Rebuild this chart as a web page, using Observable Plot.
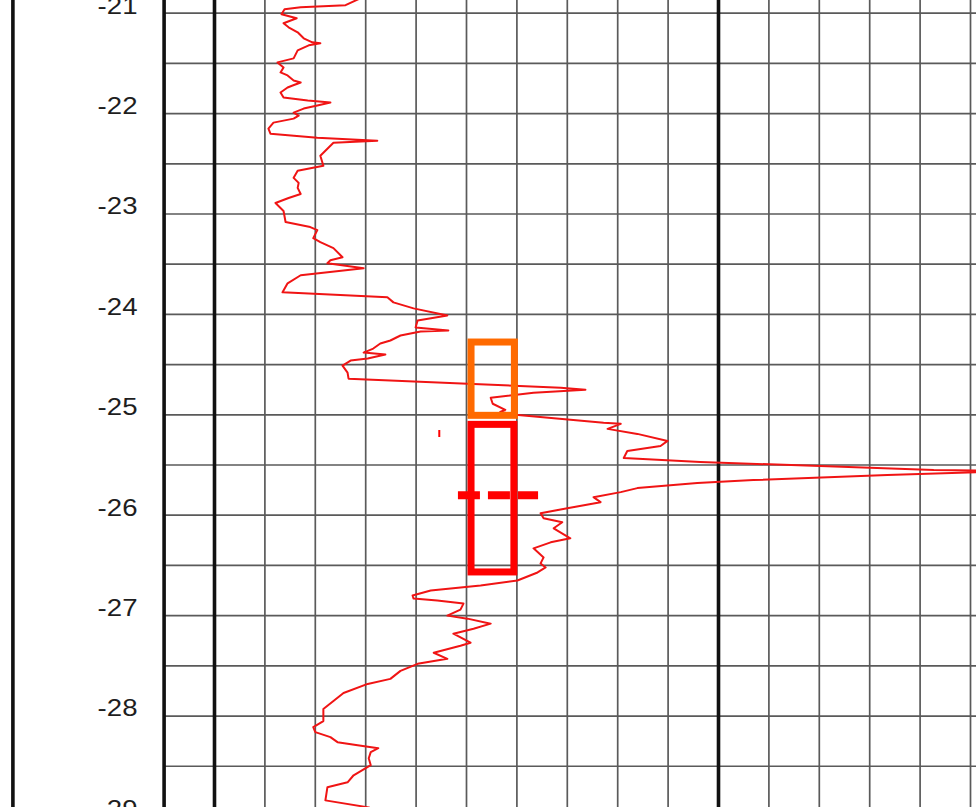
<!DOCTYPE html>
<html><head><meta charset="utf-8">
<script src="https://cdn.jsdelivr.net/npm/d3@7"></script>
<script src="https://cdn.jsdelivr.net/npm/@observablehq/plot@0.6"></script>
<style>html,body{margin:0;padding:0;background:#fff;overflow:hidden}</style>
</head><body><div id="chart"></div>
<script>
// Depth tick labels and grid
const depthLabels = [-21, -22, -23, -24, -25, -26, -27, -28, -29];
const gridDepths = [-21, -21.5, -22, -22.5, -23, -23.5, -24, -24.5, -25, -25.5, -26, -26.5, -27, -27.5, -28, -28.5, -29];
const thinColumns = [1, 2, 3, 4, 5, 6, 7, 8, 9, 11, 12, 13, 14, 15];
const thickColumns = [-4, -1, 0, 10];

// Log trace (value in grid units, depth)
const traceValue = [2.90,2.60,1.71,1.39,1.33,1.63,1.37,1.47,1.65,1.77,
1.94,2.10,1.87,1.65,1.57,1.25,1.37,1.31,1.45,1.57,
1.71,1.55,1.45,1.31,1.37,1.85,2.30,2.04,1.77,1.57,
1.67,1.57,1.17,1.07,1.11,2.04,3.23,2.36,2.26,2.10,
2.16,1.65,1.57,1.67,1.65,1.71,1.47,1.21,1.37,1.41,
1.90,2.04,1.96,2.10,2.36,2.54,2.30,2.24,2.96,1.71,
1.45,1.35,3.43,3.55,3.95,4.62,4.03,3.99,4.64,4.09,
3.69,3.49,3.29,3.15,2.96,3.39,3.04,2.70,2.54,2.64,
2.66,5.02,6.87,7.36,6.33,5.48,5.52,5.77,5.67,5.97,
7.72,8.06,7.80,8.39,8.99,8.85,8.19,8.12,9.64,12.02,
14.27,15.79,13.35,10.69,9.58,8.39,8.06,7.52,7.66,7.00,
6.47,6.53,6.90,6.73,7.06,6.67,6.33,6.53,6.47,6.57,
6.41,6.01,5.28,4.29,3.93,3.95,4.42,4.94,4.88,4.62,
5.02,5.48,5.14,4.74,5.08,4.88,4.35,4.62,4.03,3.69,
3.49,3.04,2.56,2.36,2.16,2.16,2.16,1.96,2.00,2.30,
2.44,2.84,3.25,3.10,3.06,3.10,2.76,2.64,2.24,2.20,
3.06,3.29];
const traceDepth = [-20.85,-20.92,-20.94,-20.96,-21.01,-21.05,-21.10,-21.14,-21.19,-21.25,
-21.29,-21.30,-21.32,-21.37,-21.45,-21.49,-21.54,-21.59,-21.62,-21.67,
-21.69,-21.72,-21.74,-21.79,-21.84,-21.87,-21.89,-21.92,-21.95,-21.99,
-22.02,-22.05,-22.09,-22.15,-22.20,-22.24,-22.27,-22.29,-22.34,-22.42,
-22.52,-22.57,-22.64,-22.69,-22.74,-22.80,-22.84,-22.89,-22.97,-23.08,
-23.13,-23.16,-23.24,-23.28,-23.34,-23.43,-23.46,-23.49,-23.54,-23.61,
-23.69,-23.78,-23.83,-23.88,-23.94,-24.01,-24.06,-24.13,-24.16,-24.17,
-24.21,-24.26,-24.29,-24.34,-24.38,-24.40,-24.44,-24.46,-24.51,-24.58,
-24.64,-24.69,-24.73,-24.75,-24.78,-24.83,-24.89,-24.95,-24.97,-25.00,
-25.08,-25.09,-25.14,-25.19,-25.26,-25.31,-25.36,-25.43,-25.47,-25.51,
-25.55,-25.56,-25.60,-25.65,-25.68,-25.73,-25.77,-25.82,-25.87,-25.93,
-25.98,-26.03,-26.07,-26.13,-26.23,-26.27,-26.33,-26.42,-26.48,-26.52,
-26.57,-26.65,-26.70,-26.75,-26.80,-26.83,-26.85,-26.88,-26.94,-27.00,
-27.03,-27.08,-27.13,-27.18,-27.27,-27.30,-27.37,-27.43,-27.48,-27.55,
-27.63,-27.68,-27.77,-27.85,-27.93,-27.98,-28.05,-28.11,-28.16,-28.21,
-28.26,-28.29,-28.32,-28.36,-28.42,-28.49,-28.59,-28.66,-28.71,-28.84,
-28.91,-28.96];

// Sample intervals
const boxNames = ["orange", "red"];
const boxLeft = [5.10, 5.10];
const boxRight = [5.96, 5.95];
const boxTop = [-24.28, -25.10];
const boxBottom = [-25.01, -26.57];
const boxColors = ["#ff6a00", "#ff0000"];
const meanDepth = [-25.80];
const meanLeft = [4.84];
const meanRight = [6.43];
const tickMark = [{x: 4.46, y1: -25.156, y2: -25.226}];

const trace = traceValue.map((v, i) => ({v, d: traceDepth[i]}));
const boxes = boxNames.map((n, i) => ({n, x1: boxLeft[i], x2: boxRight[i], y1: boxTop[i], y2: boxBottom[i], c: boxColors[i]}));
const mean = meanDepth.map((d, i) => ({d, x1: meanLeft[i], x2: meanRight[i]}));

const chart = Plot.plot({
  width: 976, height: 807,
  marginTop: 0, marginRight: 0, marginBottom: 0, marginLeft: 0,
  style: {fontFamily: "'Liberation Sans', Arial, sans-serif", background: "#fff"},
  x: {domain: [-4.246, 15.119], axis: null},
  y: {domain: [-28.911, -20.8735], axis: null},
  marks: [
    Plot.ruleY(gridDepths, {x1: -1, x2: 15.3, stroke: "#5a5a5a", strokeWidth: 1.7}),
    Plot.ruleX(thinColumns, {stroke: "#5a5a5a", strokeWidth: 1.7}),
    Plot.ruleX(thickColumns, {stroke: "#111", strokeWidth: 3.6}),
    Plot.text(depthLabels, {x: -1.528, y: d => d, text: d => String(d), textAnchor: "end", fontSize: 23, dy: -7, fill: "#1e1e1e"}),
    Plot.line(trace, {x: "v", y: "d", stroke: "#f01414", strokeWidth: 2, clip: true}),
    Plot.ruleX(tickMark, {x: "x", y1: "y1", y2: "y2", stroke: "#ff0000", strokeWidth: 2}),
    Plot.rect(boxes, {x1: "x1", x2: "x2", y1: "y1", y2: "y2", fill: "none", stroke: "c", strokeWidth: 7}),
    Plot.ruleY(mean, {y: "d", x1: "x1", x2: "x2", stroke: "#ff0000", strokeWidth: 8, strokeDasharray: "22,8"})
  ]
});

// Stretch tick labels horizontally like the reference
d3.select(chart).selectAll('g[aria-label="text"] text').each(function() {
  const t = this.getAttribute("transform");
  if (t) {
    this.setAttribute("transform", t + " scale(1.2,1)");
  } else {
    const x = +this.getAttribute("x") || 0, y = +this.getAttribute("y") || 0;
    this.removeAttribute("x"); this.removeAttribute("y");
    this.setAttribute("transform", `translate(${x},${y}) scale(1.2,1)`);
  }
});

document.getElementById("chart").appendChild(chart);
</script>
</body></html>
